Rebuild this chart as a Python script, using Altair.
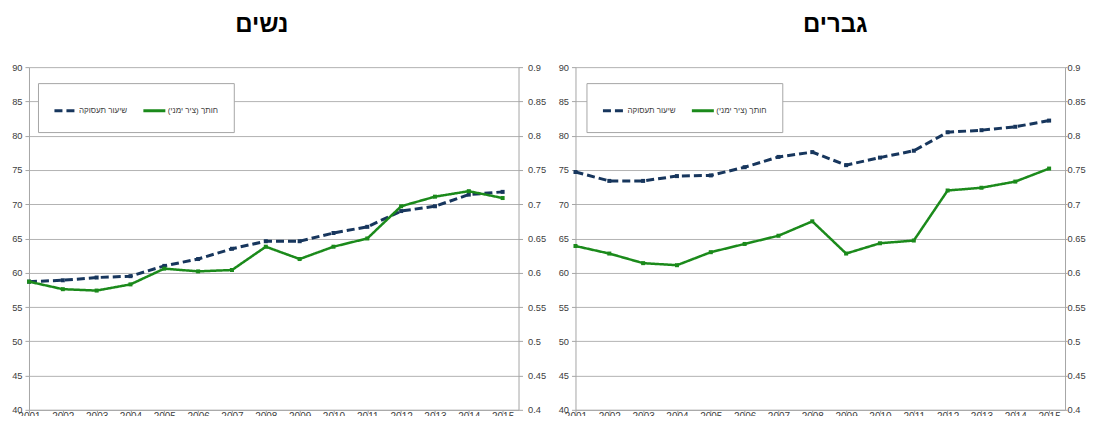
import altair as alt
import pandas as pd

years = list(range(2001, 2016))
women_emp = [58.7, 58.9, 59.3, 59.5, 61.0, 62.0, 63.5, 64.6, 64.6, 65.8, 66.7, 69.0, 69.7, 71.4, 71.8]
women_cut = [0.587, 0.576, 0.574, 0.583, 0.606, 0.602, 0.604, 0.638, 0.620, 0.638, 0.650, 0.697, 0.711, 0.719, 0.709]
men_emp = [74.7, 73.4, 73.4, 74.1, 74.2, 75.4, 76.9, 77.6, 75.7, 76.8, 77.8, 80.5, 80.8, 81.3, 82.2]
men_cut = [0.639, 0.628, 0.614, 0.611, 0.630, 0.642, 0.654, 0.675, 0.628, 0.643, 0.647, 0.720, 0.724, 0.733, 0.752]

series_names = ["שיעור תעסוקה", "חותך (ציר ימני)"]
left_ticks = [40, 45, 50, 55, 60, 65, 70, 75, 80, 85, 90]
right_ticks = [0.4, 0.45, 0.5, 0.55, 0.6, 0.65, 0.7, 0.75, 0.8, 0.85, 0.9]

NAVY = "#17365d"
GREEN = "#1b8a1b"
FONT = "Liberation Sans"


def panel(emp, cut, title, left_extent, width, dx, legend_x, r_tick, r_pad, r_extent):
    df_emp = pd.DataFrame({"year": years, "value": emp, "series": series_names[0]})
    df_cut = pd.DataFrame({"year": years, "value": cut, "series": series_names[1]})

    legend = alt.Legend(
        orient="none", legendX=legend_x, legendY=16, direction="horizontal", title=None,
        strokeColor="#a6a6a6", fillColor="white", padding=15,
        symbolType="stroke", symbolSize=484, symbolStrokeWidth=3,
        labelFont=FONT, labelFontSize=8, labelColor="#404040",
        columnPadding=9, labelOffset=1,
    )
    color = alt.Color("series:N", scale=alt.Scale(domain=series_names, range=[NAVY, GREEN]), legend=legend)
    dash = alt.StrokeDash("series:N", scale=alt.Scale(domain=series_names, range=[[8, 4], [1, 0]]), legend=legend)

    x = alt.X(
        "year:Q",
        scale=alt.Scale(domain=[2001, 2015.47], nice=False, zero=False),
        axis=alt.Axis(values=years, format="d", title=None, grid=False, labelFlush=False,
                      labelOverlap=False, labelPadding=-1, tickSize=3, labelFontSize=10),
    )

    emp_layer = alt.Chart(df_emp).mark_line(
        strokeWidth=3,
        point=alt.OverlayMarkDef(shape="square", size=16, filled=True, color=NAVY),
    ).encode(
        x=x,
        y=alt.Y("value:Q", scale=alt.Scale(domain=[40, 90], nice=False, zero=False),
                axis=alt.Axis(values=left_ticks, title=None, grid=True, orient="left",
                              minExtent=left_extent, maxExtent=left_extent, labelPadding=3)),
        color=color,
        strokeDash=dash,
    )

    cut_layer = alt.Chart(df_cut).mark_line(
        strokeWidth=2.5,
        point=alt.OverlayMarkDef(shape="square", size=16, filled=True, color=GREEN),
    ).encode(
        x=x,
        y=alt.Y("value:Q", scale=alt.Scale(domain=[0.4, 0.9], nice=False, zero=False),
                axis=alt.Axis(values=right_ticks, format="~g", title=None, grid=False, orient="right",
                              tickSize=r_tick, labelPadding=r_pad,
                              minExtent=r_extent, maxExtent=r_extent)),
        color=color,
        strokeDash=dash,
    )

    return alt.layer(emp_layer, cut_layer).resolve_scale(y="independent").properties(
        width=width, height=343,
        title=alt.TitleParams(text=title, fontSize=24, font=FONT, fontWeight="bold",
                              color="black", offset=26, dx=dx, anchor="middle"),
    )


left = panel(women_emp, women_cut, "נשים", 21, 490, -12, 9, 4, 5, 27)
right = panel(men_emp, men_cut, "גברים", 17, 490, 15, 11, 2, 0, 21)

chart = alt.hconcat(left, right, spacing=11).resolve_scale(
    color="independent", strokeDash="independent", y="independent"
).resolve_legend(color="independent", strokeDash="independent").properties(
    padding={"left": 0, "top": 5, "right": 0, "bottom": -6}
).configure_view(stroke=None).configure_axis(
    labelFont=FONT, labelFontSize=9.3, labelColor="#404040",
    domainColor="#a6a6a6", tickColor="#a6a6a6", gridColor="#b3b3b3", tickSize=4,
)

chart.save("out.html", embed_options={"renderer": "svg", "actions": False})
